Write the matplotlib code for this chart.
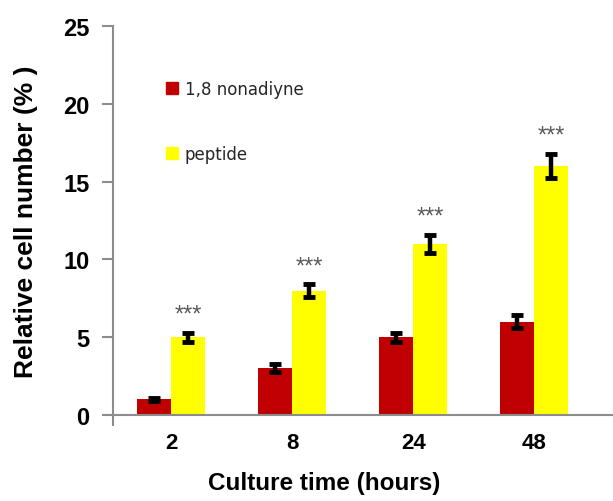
import numpy as np
import matplotlib.pyplot as plt
from matplotlib.patches import Patch

hours = ['2', '8', '24', '48']
nonadiyne = [1, 3, 5, 6]
nonadiyne_err = [0.1, 0.25, 0.3, 0.4]
peptide = [5, 8, 11, 16]
peptide_err = [0.3, 0.4, 0.6, 0.8]
stars = ['***', '***', '***', '***']

plt.rcParams['font.family'] = 'Liberation Sans'

fig = plt.figure(figsize=(6.13, 5.02), dpi=100)
ax = fig.add_axes([113/613, 86/502, 1 - 113/613, 389/502])

x = np.arange(len(hours))
w = 0.28
err_kw = dict(ecolor='black', elinewidth=3.2, capsize=4, capthick=3.5)
ax.bar(x - w/2, nonadiyne, w, color='#C00000', yerr=nonadiyne_err, error_kw=err_kw)
ax.bar(x + w/2, peptide, w, color='#FFFF00', yerr=peptide_err, error_kw=err_kw)

for i in range(len(hours)):
    ax.annotate(stars[i], (x[i] + w/2, peptide[i] + peptide_err[i]), xytext=(0, 13),
                textcoords='offset points', ha='center', va='center',
                color='#595959', fontsize=17)

ax.set_xlim(-0.48, 3.65)
ax.set_ylim(0, 25)
ax.set_yticks([0, 5, 10, 15, 20, 25])
ax.set_xticks(x)
ax.set_xticklabels(hours)

for s in ['top', 'right']:
    ax.spines[s].set_visible(False)
for s in ['left', 'bottom']:
    ax.spines[s].set_color('#8c8c8c')
    ax.spines[s].set_linewidth(1.5)

ax.tick_params(axis='y', direction='out', length=8, width=1.5, color='#8c8c8c',
               labelsize=17, pad=9)
ax.tick_params(axis='x', length=0, labelsize=16, pad=12)
ax.set_xticks([-0.48], minor=True)
ax.tick_params(axis='x', which='minor', direction='out', length=8, width=1.5, color='#8c8c8c')
for lab in ax.get_xticklabels() + ax.get_yticklabels():
    lab.set_fontweight('bold')

ax.set_xlabel('Culture time (hours)', fontsize=17.5, fontweight='bold')
ax.xaxis.set_label_coords((324 - 113) / 500, -0.145)
ax.set_ylabel('Relative cell number (% )', fontsize=19, fontweight='bold')
ax.yaxis.set_label_coords(-0.15, 0.5)

handles = [Patch(color='#C00000'), Patch(color='#FFFF00')]
ax.legend(handles, ['1,8 nonadiyne', 'peptide'], loc='upper left',
          bbox_to_anchor=(0.075, 0.9), frameon=False, labelcolor='#262626',
          handlelength=0.75, handleheight=0.75, handletextpad=0.4, labelspacing=2.8,
          prop={'family': 'DejaVu Sans', 'size': 12})

fig.savefig('out.png', dpi=100)
